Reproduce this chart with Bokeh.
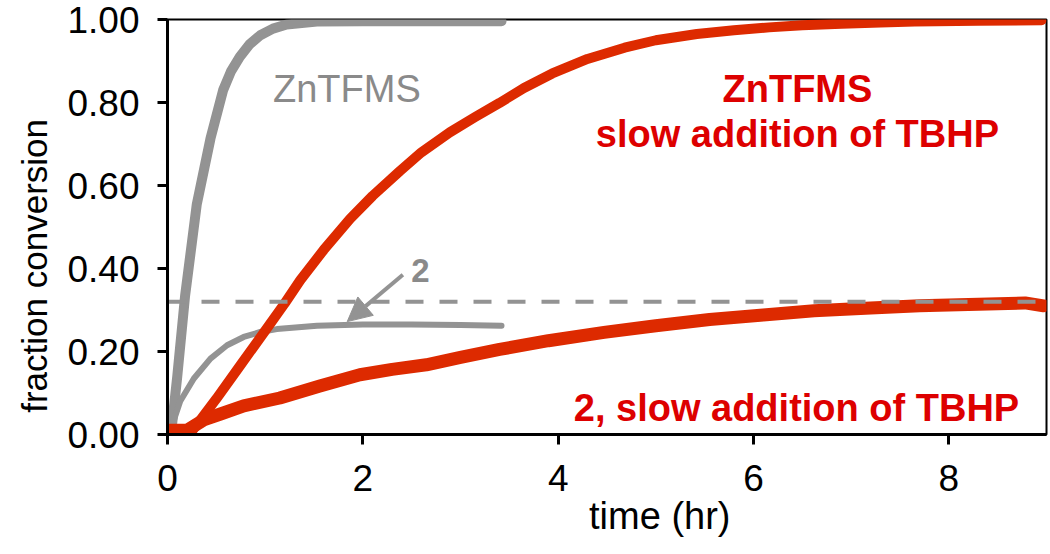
from bokeh.plotting import figure
from bokeh.models import Range1d, FixedTicker, NumeralTickFormatter, Arrow, NormalHead, Label
from bokeh.embed import file_html
from bokeh.resources import INLINE

# ---- data ----
zn_t = [0, 0.04, 0.1, 0.18, 0.3, 0.44, 0.57, 0.65, 0.74, 0.84, 0.95, 1.08, 1.22, 1.53, 2.0, 2.5, 3.0, 3.42]
zn_y = [0.0, 0.01, 0.14, 0.334, 0.555, 0.713, 0.83, 0.875, 0.91, 0.94, 0.962, 0.978, 0.988, 0.995, 0.996, 0.996, 0.996, 0.996]

c2_t = [0, 0.03, 0.13, 0.27, 0.44, 0.61, 0.78, 0.95, 1.12, 1.53, 2.0, 2.5, 3.0, 3.42]
c2_y = [0.0, 0.01, 0.08, 0.135, 0.183, 0.215, 0.235, 0.247, 0.254, 0.262, 0.265, 0.265, 0.264, 0.262]

zns_t = [0, 0.24, 0.5, 0.75, 1.0, 1.2, 1.36, 1.6, 1.87, 2.1, 2.38, 2.6, 2.89, 3.15, 3.4,
         3.65, 3.94, 4.3, 4.68, 5.0, 5.42, 5.8, 6.16, 6.5, 6.9, 7.3, 7.65, 8.3, 8.95]
zns_y = [0.005, 0.005, 0.086, 0.168, 0.25, 0.316, 0.372, 0.445, 0.52, 0.575, 0.635, 0.68, 0.728, 0.765, 0.799,
         0.835, 0.87, 0.905, 0.932, 0.95, 0.965, 0.974, 0.981, 0.986, 0.99, 0.993, 0.995, 0.997, 0.998]

c2s_t = [0, 0.2, 0.37, 0.55, 0.78, 1.15, 1.56, 1.97, 2.3, 2.65, 3.0, 3.4, 3.9, 4.47, 5.0,
         5.55, 6.1, 6.62, 7.2, 7.7, 8.2, 8.78, 8.97]
c2s_y = [0.01, 0.01, 0.035, 0.05, 0.069, 0.088, 0.117, 0.144, 0.157, 0.168, 0.186, 0.205, 0.226, 0.246, 0.262,
         0.277, 0.288, 0.298, 0.305, 0.31, 0.313, 0.317, 0.31]

ref_level = 0.32
x_ticks = [0, 2, 4, 6, 8]
y_ticks = [0, 0.2, 0.4, 0.6, 0.8, 1.0]

GRAY = "#939393"
GRAY_TXT = "#8a8a8a"
RED_LINE = "#DD2A00"
RED_TXT = "#DD0000"
FONT = "Liberation Sans"
NB = "\u00a0"

p = figure(width=1048, height=550, x_range=Range1d(0, 9), y_range=Range1d(0, 1),
           output_backend="svg", toolbar_location=None,
           min_border_left=167, min_border_right=2, min_border_top=19, min_border_bottom=116)

p.grid.visible = False
p.outline_line_color = "black"
p.outline_line_width = 2

for ax in (p.xaxis, p.yaxis):
    ax.axis_line_width = 3
    ax.axis_line_color = "black"
    ax.major_tick_line_width = 3
    ax.major_tick_out = 10
    ax.major_tick_in = 0
    ax.minor_tick_line_color = None
    ax.major_label_text_font = FONT
    ax.major_label_text_font_size = "37px"
    ax.major_label_text_color = "black"
    ax.axis_label_text_font = FONT
    ax.axis_label_text_font_style = "normal"
    ax.axis_label_text_color = "black"

p.xaxis.ticker = FixedTicker(ticks=x_ticks)
p.yaxis.ticker = FixedTicker(ticks=y_ticks)
p.yaxis.formatter = NumeralTickFormatter(format="0.00")
p.xaxis.major_label_standoff = 20
p.yaxis.major_label_standoff = 18

# axis titles (non-breaking spaces shift them off-centre, as in the reference)
p.xaxis.axis_label = NB * 10 + "time (hr)"
p.xaxis.axis_label_text_font_size = "38px"
p.xaxis.axis_label_standoff = 1
p.yaxis.axis_label = "fraction conversion" + NB * 8
p.yaxis.axis_label_text_font_size = "35px"
p.yaxis.axis_label_standoff = 10

p.line(zn_t, zn_y, line_color=GRAY, line_width=10, line_cap="round", line_join="round")
p.line(c2_t, c2_y, line_color=GRAY, line_width=6, line_cap="round", line_join="round")
p.line(zns_t, zns_y, line_color=RED_LINE, line_width=10, line_cap="round", line_join="round")
p.line(c2s_t, c2s_y, line_color=RED_LINE, line_width=13, line_cap="round", line_join="round")
p.line([0, 9], [ref_level, ref_level], line_color=GRAY, line_width=4, line_dash="18 16")

p.add_layout(Arrow(end=NormalHead(size=24, fill_color=GRAY, line_color=GRAY),
                   x_start=2.41, y_start=0.385, x_end=1.84, y_end=0.272,
                   line_color=GRAY, line_width=4))

def lab(x, y, t, color, style, align="left", size="38px"):
    p.add_layout(Label(x=x, y=y, text=t, text_color=color, text_font=FONT,
                       text_font_size=size, text_font_style=style,
                       text_align=align, text_baseline="alphabetic"))

lab(1.08, 0.832, "ZnTFMS", GRAY_TXT, "normal")
lab(2.59, 0.396, "2", GRAY_TXT, "bold", align="center", size="33px")
lab(6.45, 0.832, "ZnTFMS", RED_TXT, "bold", align="center")
lab(6.45, 0.725, "slow addition of TBHP", RED_TXT, "bold", align="center")
lab(6.44, 0.064, "2, slow addition of TBHP", RED_TXT, "bold", align="center")

open("out.html", "w").write(file_html(p, INLINE))
